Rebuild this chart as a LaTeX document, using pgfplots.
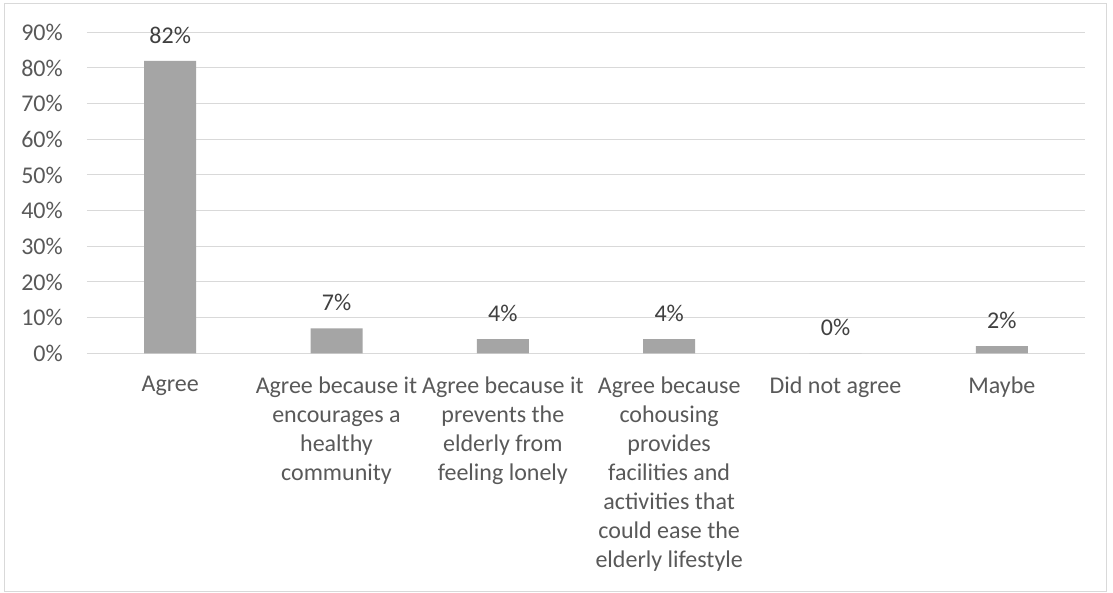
\documentclass[border=0pt]{standalone}
\usepackage{pgfplots}
\pgfplotsset{compat=1.18}
\usepackage{fontspec}
\setmainfont{Carlito}
\definecolor{barc}{HTML}{A5A5A5}
\definecolor{txt}{HTML}{595959}
\definecolor{lbl}{HTML}{404040}
\definecolor{grd}{HTML}{D9D9D9}
\begin{document}
\begin{tikzpicture}[x=1pt,y=1pt]
\useasboundingbox (-87,-239.7) rectangle (1026,353.3);
\fill[white] (-87,-239.7) rectangle (1026,353.3);
\draw[grd, line width=1pt] (-82,-238.2) rectangle (1019,349.3);
\begin{axis}[
  at={(0,0)}, anchor=south west,
  scale only axis, width=998pt, height=321pt,
  xmin=-0.5, xmax=5.5, ymin=0, ymax=90,
  ytick={0,10,...,90},
  xtick={0,1,2,3,4,5},
  xticklabels={Agree,
    {Agree because it\\encourages a\\healthy\\community},
    {Agree because it\\prevents the\\elderly from\\feeling lonely},
    {Agree because\\cohousing\\provides\\facilities and\\activities that\\could ease the\\elderly lifestyle},
    Did not agree, Maybe},
  axis line style={draw=none},
  tick style={draw=none},
  ymajorgrids, major grid style={grd, line width=1pt},
  /pgf/number format/assume math mode=true,
  yticklabel={\pgfmathprintnumber{\tick}\%},
  yticklabel style={font=\fontsize{24}{29}\selectfont, text=txt, inner sep=0pt, anchor=east, xshift=-24pt},
  xticklabel style={font=\fontsize{24}{29}\selectfont, text=txt, align=center, inner sep=0pt, anchor=north, yshift=-23pt},
  nodes near coords={\pgfmathprintnumber{\pgfplotspointmeta}\%},
  nodes near coords style={font=\fontsize{24}{29}\selectfont, text=lbl, inner sep=0pt, anchor=south, yshift=17pt},
]
\addplot[ybar, bar width=52pt, fill=barc, draw=none] coordinates {
 (0,82) (1,7) (2,4) (3,4) (4,0) (5,2)
};
\end{axis}
\end{tikzpicture}
\end{document}
